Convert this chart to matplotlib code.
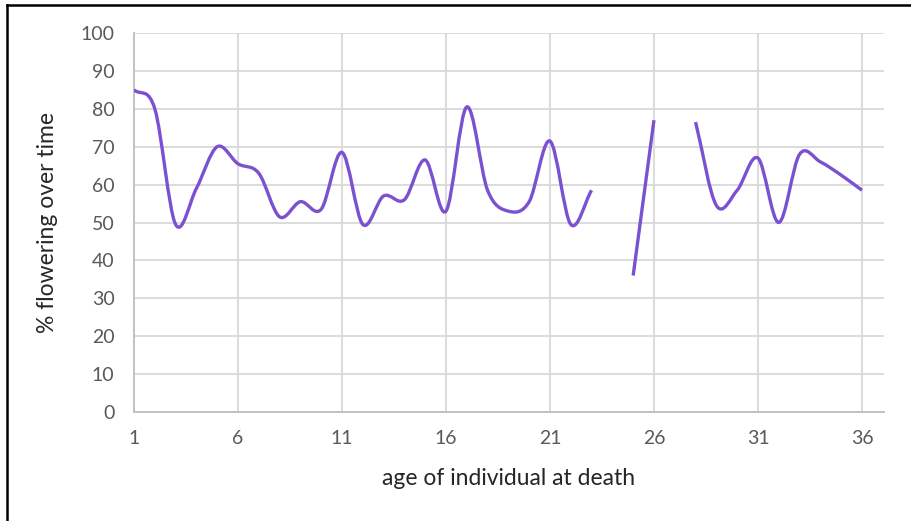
import numpy as np
import matplotlib
matplotlib.use('Agg')
import matplotlib.pyplot as plt
from matplotlib.path import Path
from matplotlib.patches import PathPatch


# ── data ──────────────────────────────────────────────────────────────────────

ages = list(range(1, 37))
pct_flowering = [
    85, 80, 49.5, 59, 70, 65.5, 63, 51.5, 55.5, 53.5,
    68.5, 49.5, 57, 56, 66.5, 53, 80.5, 58.5, 53, 55.5,
    71.5, 49.5, 58.5, None, 36, 77, None, 76.5, 54.5, 58.5,
    67, 50, 68, 66, 62.5, 58.5,
]
x_ticks = [1, 6, 11, 16, 21, 26, 31, 36]
y_ticks = list(range(0, 101, 10))

C_LINE = '#7a52d1'
C_GRID = '#d9d9d9'
C_TICK = '#595959'
FONT = 'Lato'


def smooth_path(xs, ys):
    """Excel-style smoothed line: cubic beziers with catmull-rom control points."""
    verts = [(xs[0], ys[0])]
    codes = [Path.MOVETO]
    n = len(xs)
    for i in range(n - 1):
        p1 = (xs[i], ys[i])
        p2 = (xs[i + 1], ys[i + 1])
        # at the ends, reflect the neighbour so the tangent follows the segment
        p0 = (xs[i - 1], ys[i - 1]) if i > 0 else (2 * p1[0] - p2[0], 2 * p1[1] - p2[1])
        p3 = (xs[i + 2], ys[i + 2]) if i + 2 < n else (2 * p2[0] - p1[0], 2 * p2[1] - p1[1])
        c1 = (p1[0] + (p2[0] - p0[0]) / 6, p1[1] + (p2[1] - p0[1]) / 6)
        c2 = (p2[0] - (p3[0] - p1[0]) / 6, p2[1] - (p3[1] - p1[1]) / 6)
        verts += [c1, c2, p2]
        codes += [Path.CURVE4] * 3
    return Path(verts, codes)


def segments(xs, ys):
    seg_x, seg_y = [], []
    for x, y in zip(xs, ys):
        if y is None:
            if seg_x:
                yield seg_x, seg_y
            seg_x, seg_y = [], []
        else:
            seg_x.append(x)
            seg_y.append(y)
    if seg_x:
        yield seg_x, seg_y


# ── chart ─────────────────────────────────────────────────────────────────────

fig = plt.figure(figsize=(9.12, 5.21), dpi=100)
ax = fig.add_axes([134 / 912, 1 - 412 / 521, 750 / 912, 379 / 521])

for sx, sy in segments(ages, pct_flowering):
    ax.add_patch(PathPatch(smooth_path(sx, sy), facecolor='none',
                           edgecolor=C_LINE, lw=2.4, capstyle='butt',
                           joinstyle='round', zorder=3))

ax.set_xlim(1, 37.06)
ax.set_ylim(0, 100)
ax.set_xticks(x_ticks)
ax.set_yticks(y_ticks)
ax.grid(True, color=C_GRID, lw=1.3)
ax.set_axisbelow(True)
for side in ('top', 'right'):
    ax.spines[side].set_visible(False)
for side in ('left', 'bottom'):
    ax.spines[side].set_color('#bfbfbf')
    ax.spines[side].set_linewidth(1.3)
ax.tick_params(length=0, colors=C_TICK, labelsize=14)
ax.tick_params(axis='y', pad=14)
ax.tick_params(axis='x', pad=13)
for lab in ax.get_xticklabels() + ax.get_yticklabels():
    lab.set_family(FONT)

ax.set_xlabel('age of individual at death', family=FONT, fontsize=16.5,
              color='#262626', labelpad=15)
ax.set_ylabel('% flowering over time', family=FONT, fontsize=16.5,
              color='#262626', labelpad=16)

# frame of the cropped screenshot (top and left edges)
fig.add_artist(plt.Line2D([7.5 / 912, 7.5 / 912], [0, 1 - 5 / 521],
                          color='black', lw=1.8, transform=fig.transFigure))
fig.add_artist(plt.Line2D([7.5 / 912, 1], [1 - 5 / 521, 1 - 5 / 521],
                          color='black', lw=1.8, transform=fig.transFigure))

fig.savefig('out.png', dpi=100, facecolor='white')
